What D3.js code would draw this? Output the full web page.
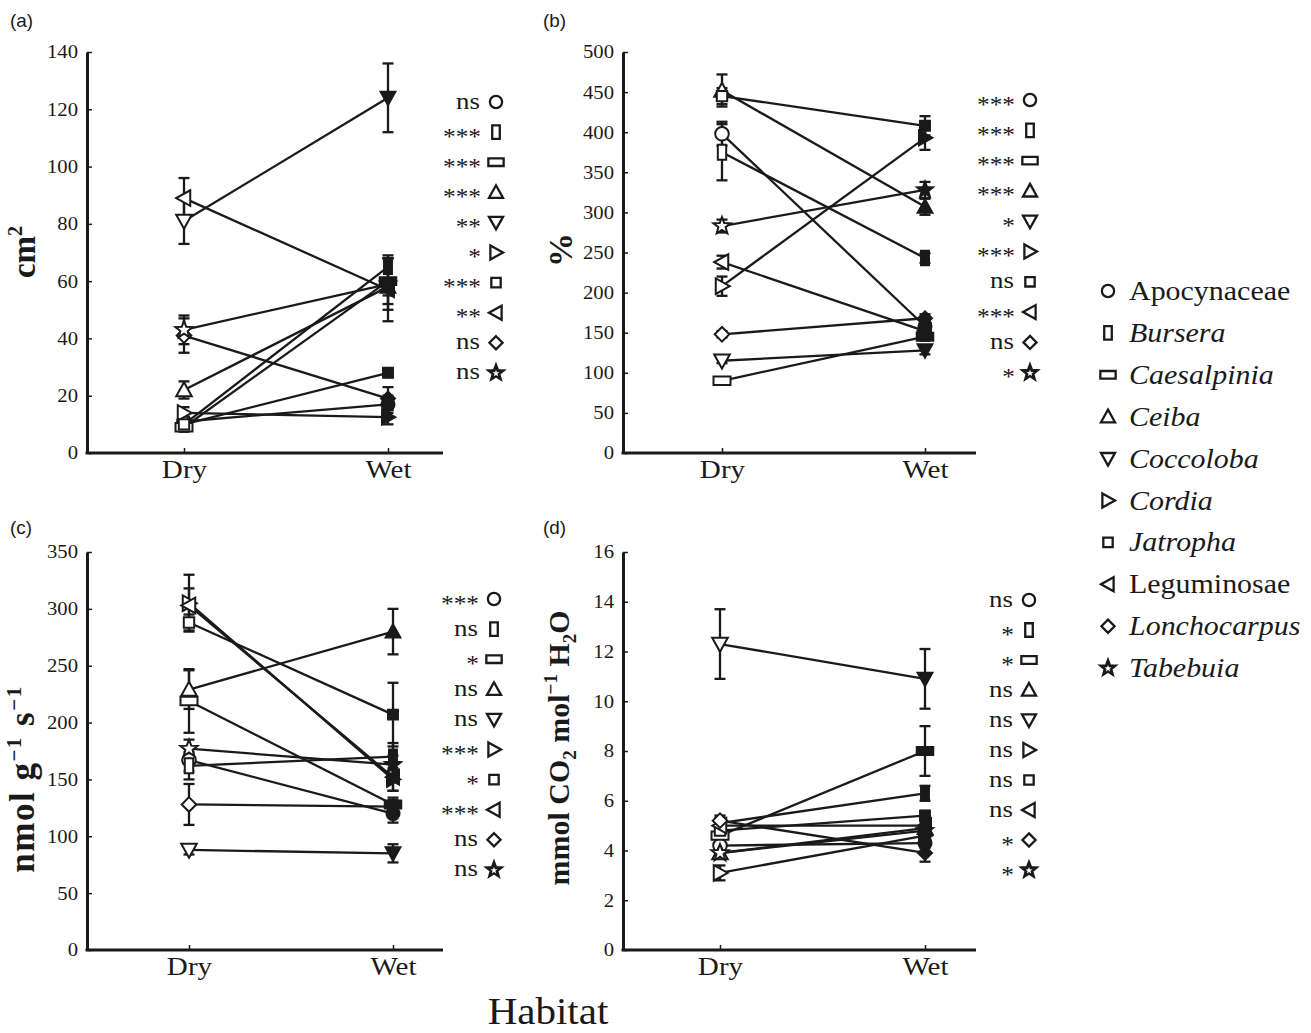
<!DOCTYPE html>
<html>
<head>
<meta charset="utf-8">
<script src="https://cdn.jsdelivr.net/npm/d3@7"></script>
<style>
  body { margin: 0; background: #fff; }
  svg { display: block; }
</style>
</head>
<body>
<svg id="chart" width="1311" height="1033"></svg>
<script>
// ---------- DATA ----------
const species = ["Apocynaceae","Bursera","Caesalpinia","Ceiba","Coccoloba","Cordia","Jatropha","Leguminosae","Lonchocarpus","Tabebuia"];
const italicSpecies = [false,true,true,true,true,true,true,false,true,true];
const shapes = ["circle","tallRect","wideRect","triUp","triDown","triRight","square","triLeft","diamond","star"];
const habitats = ["Dry","Wet"];

// (a) cm2
const aDry    = [11, 10, 9, 22, 81, 14, 10, 89, 41, 43];
const aDryErr = [1.5, 1.5, 1.5, 3, 8, 2, 1.5, 7, 6, 5];
const aWet    = [17, 65, 60, 58, 124, 12.5, 28, 57, 19, 59];
const aWetErr = [3, 4, 8, 3, 12, 2.5, 1.5, 11, 4, 9];
const aSig = ["ns","***","***","***","**","*","***","**","ns","ns"];
const aTicks = [0,20,40,60,80,100,120,140];

// (b) %
const bDry    = [398, 375, 90, 452, 115, 208, 445, 238, 148, 283];
const bDryErr = [15, 35, 3, 20, 3, 12, 10, 8, 4, 8];
const bWet    = [158, 243, 145, 307, 128, 393, 408, 152, 168, 328];
const bWetErr = [6, 6, 5, 10, 5, 15, 12, 6, 5, 10];
const bSig = ["***","***","***","***","*","***","ns","***","ns","*"];
const bTicks = [0,50,100,150,200,250,300,350,400,450,500];

// (c) nmol g-1 s-1
const cDry    = [167, 162, 219, 229, 88, 305, 288, 303, 128, 177];
const cDryErr = [10, 12, 28, 17, 4, 25, 7, 15, 18, 8];
const cWet    = [120, 170, 128, 280, 85, 150, 207, 152, 126, 163];
const cWetErr = [8, 12, 6, 20, 8, 10, 28, 12, 6, 8];
const cSig = ["***","ns","*","ns","ns","***","*","***","ns","ns"];
const cTicks = [0,50,100,150,200,250,300,350];

// (d) mmol CO2 mol-1 H2O
const dDry    = [4.2, 5.1, 4.6, 3.9, 12.3, 3.1, 4.8, 5.0, 5.2, 3.9];
const dDryErr = [0.2, 0.2, 0.2, 0.2, 1.4, 0.3, 0.2, 0.2, 0.2, 0.2];
const dWet    = [4.3, 6.3, 8.0, 4.9, 10.9, 4.6, 5.4, 5.0, 3.9, 4.8];
const dWetErr = [0.2, 0.3, 1.0, 0.2, 1.2, 0.2, 0.2, 0.2, 0.35, 0.2];
const dSig = ["ns","*","*","ns","ns","ns","ns","ns","*","*"];
const dTicks = [0,2,4,6,8,10,12,14,16];

// ---------- LAYOUT ----------
const INK = "#1a1a1a";
const SERIF = "'Liberation Serif','DejaVu Serif',serif";
const SANS = "'Liberation Sans','DejaVu Sans',sans-serif";
const SX = 1.12; // horizontal text stretch seen in the reference

const panels = [
  {letter:"(a)", lx:10, ly:27, axX:87, axEnd:443, xDry:184, xWet:388, yTop:52, yBot:453,
   ticks:aTicks, dry:aDry, dryErr:aDryErr, wet:aWet, wetErr:aWetErr, sig:aSig,
   sigX:496, sigY0:102, sigStep:30.1, titleX:35, titleY:252, title:"a"},
  {letter:"(b)", lx:543, ly:27, axX:623, axEnd:976, xDry:722, xWet:925, yTop:52, yBot:453,
   ticks:bTicks, dry:bDry, dryErr:bDryErr, wet:bWet, wetErr:bWetErr, sig:bSig,
   sigX:1030, sigY0:100, sigStep:30.3, titleX:572, titleY:250, title:"b"},
  {letter:"(c)", lx:10, ly:534, axX:87, axEnd:443, xDry:189, xWet:393, yTop:552, yBot:950,
   ticks:cTicks, dry:cDry, dryErr:cDryErr, wet:cWet, wetErr:cWetErr, sig:cSig,
   sigX:494, sigY0:599, sigStep:30.1, titleX:34, titleY:779, title:"c"},
  {letter:"(d)", lx:543, ly:534, axX:623, axEnd:976, xDry:720, xWet:925, yTop:552, yBot:950,
   ticks:dTicks, dry:dDry, dryErr:dDryErr, wet:dWet, wetErr:dWetErr, sig:dSig,
   sigX:1029, sigY0:600, sigStep:30.0, titleX:569, titleY:748, title:"d"}
];

const svg = d3.select("#chart");

function stretchedText(parent, x, y, str, opts) {
  const t = parent.append("text")
    .attr("transform", `translate(${x},${y}) scale(${opts.sx || SX},1)`)
    .attr("font-family", opts.family || SERIF)
    .attr("font-size", opts.size)
    .attr("fill", INK)
    .attr("text-anchor", opts.anchor || "start")
    .text(str);
  if (opts.style) t.attr("font-style", opts.style);
  if (opts.ls) t.attr("letter-spacing", opts.ls);
  return t;
}

// ---------- SHAPES ----------
function shapePath(name, k) {
  k = k || 1;
  const p = d3.path();
  switch (name) {
    case "circle": { const r = 6.8*k; p.moveTo(r,0); p.arc(0,0,r,0,2*Math.PI); break; }
    case "tallRect": { const w=4.2*k, h=7.5*k; p.rect(-w,-h,2*w,2*h); break; }
    case "wideRect": { const w=8.5*k, h=4.2*k; p.rect(-w,-h,2*w,2*h); break; }
    case "square": { const s=5.2*k; p.rect(-s,-s,2*s,2*s); break; }
    case "triUp": { const s=7.8*k; p.moveTo(0,-s); p.lineTo(s,s*0.8); p.lineTo(-s,s*0.8); p.closePath(); break; }
    case "triDown": { const s=7.8*k; p.moveTo(0,s); p.lineTo(s,-s*0.8); p.lineTo(-s,-s*0.8); p.closePath(); break; }
    case "triRight": { const s=7.8*k; p.moveTo(s,0); p.lineTo(-s*0.8,s); p.lineTo(-s*0.8,-s); p.closePath(); break; }
    case "triLeft": { const s=7.8*k; p.moveTo(-s,0); p.lineTo(s*0.8,s); p.lineTo(s*0.8,-s); p.closePath(); break; }
    case "diamond": { const s=7.3*k; p.moveTo(0,-s); p.lineTo(s,0); p.lineTo(0,s); p.lineTo(-s,0); p.closePath(); break; }
    case "star": {
      const R=9*k, r=3.8*k;
      for (let i=0;i<10;i++){
        const a = -Math.PI/2 + i*Math.PI/5;
        const rr = i%2===0 ? R : r;
        const x = rr*Math.cos(a), y = rr*Math.sin(a);
        if (i===0) p.moveTo(x,y); else p.lineTo(x,y);
      }
      p.closePath(); break;
    }
  }
  return p.toString();
}

function keyMarker(parent, shape, cx, cy) {
  parent.append("path").attr("d",shapePath(shape,0.9))
    .attr("transform",`translate(${cx},${cy})`)
    .attr("fill", shape==="star" ? INK : "#fff").attr("stroke",INK).attr("stroke-width",2.3);
  if (shape==="star") {
    parent.append("path").attr("d",shapePath("star",0.4)).attr("transform",`translate(${cx},${cy+0.5})`)
      .attr("fill","#fff");
  }
}

// ---------- PANELS ----------
panels.forEach(P => {
  const g = svg.append("g");
  const max = P.ticks[P.ticks.length-1];
  const y = d3.scaleLinear().domain([0,max]).range([P.yBot,P.yTop]);
  const x = d3.scalePoint().domain(habitats).range([P.xDry,P.xWet]);

  // panel letter
  stretchedText(svg, P.lx, P.ly, P.letter, {family:SANS, size:18, sx:1.05});

  // y axis
  const yAxis = d3.axisLeft(y).tickValues(P.ticks).tickSize(-5).tickPadding(8).tickSizeOuter(0);
  const ya = g.append("g").attr("transform",`translate(${P.axX},0)`).call(yAxis);
  ya.select(".domain").attr("stroke",INK).attr("stroke-width",3);
  ya.selectAll(".tick line").attr("stroke",INK).attr("stroke-width",1.5);
  ya.selectAll(".tick text").attr("font-family",SERIF).attr("font-size",18.5).attr("fill",INK)
    .attr("transform",`scale(${SX},1)`);

  // x axis
  g.append("line").attr("x1",P.axX-1.5).attr("x2",P.axEnd).attr("y1",P.yBot).attr("y2",P.yBot)
   .attr("stroke",INK).attr("stroke-width",3);
  const xAxis = d3.axisBottom(x).tickSize(-5).tickPadding(7).tickSizeOuter(0);
  const xa = g.append("g").attr("transform",`translate(0,${P.yBot})`).call(xAxis);
  xa.select(".domain").remove();
  xa.selectAll(".tick line").attr("stroke",INK).attr("stroke-width",1.5);
  xa.selectAll(".tick text").attr("font-family",SERIF).attr("font-size",26).attr("fill",INK)
    .attr("transform",`scale(${SX},1)`);

  // lines
  const line = d3.line().x(d=>x(d.h)).y(d=>y(d.v));
  species.forEach((s,i) => {
    g.append("path").attr("d", line([{h:"Dry",v:P.dry[i]},{h:"Wet",v:P.wet[i]}]))
     .attr("fill","none").attr("stroke",INK).attr("stroke-width",2.3);
  });
  // error bars
  const drawErr = (h, v, e) => {
    const cx = x(h);
    g.append("line").attr("x1",cx).attr("x2",cx).attr("y1",y(v-e)).attr("y2",y(v+e))
     .attr("stroke",INK).attr("stroke-width",2.3);
    [v-e, v+e].forEach(t => g.append("line").attr("x1",cx-5.5).attr("x2",cx+5.5)
      .attr("y1",y(t)).attr("y2",y(t)).attr("stroke",INK).attr("stroke-width",2.3));
  };
  species.forEach((s,i) => { drawErr("Dry",P.dry[i],P.dryErr[i]); drawErr("Wet",P.wet[i],P.wetErr[i]); });
  // markers
  species.forEach((s,i) => {
    g.append("path").attr("d",shapePath(shapes[i]))
     .attr("transform",`translate(${x("Dry")},${y(P.dry[i])})`)
     .attr("fill","#fff").attr("stroke",INK).attr("stroke-width",2);
    g.append("path").attr("d",shapePath(shapes[i]))
     .attr("transform",`translate(${x("Wet")},${y(P.wet[i])})`)
     .attr("fill",INK).attr("stroke",INK).attr("stroke-width",1.5);
  });

  // significance column
  species.forEach((s,i) => {
    const cy = P.sigY0 + i*P.sigStep;
    keyMarker(g, shapes[i], P.sigX, cy);
    const lab = P.sig[i];
    if (lab === "ns") {
      stretchedText(g, P.sigX-16, cy+6.5, lab, {size:24, anchor:"end", sx:1.12});
    } else {
      stretchedText(g, P.sigX-15, cy+11.5, lab, {size:23, anchor:"end", sx:1.1});
    }
  });

  // y title
  const t = svg.append("text").attr("transform",`translate(${P.titleX},${P.titleY}) rotate(-90)`)
    .attr("text-anchor","middle").attr("font-family",SERIF).attr("font-weight","bold")
    .attr("fill",INK);
  if (P.title === "a") {
    t.attr("font-size",33);
    t.append("tspan").text("cm");
    t.append("tspan").attr("dy",-13).attr("font-size",20).text("2");
  } else if (P.title === "b") {
    t.attr("font-size",34).text("%");
  } else if (P.title === "c") {
    t.attr("font-size",35).attr("letter-spacing",1.5);
    t.append("tspan").text("nmol g");
    t.append("tspan").attr("dy",-13).attr("font-size",21).text("−1");
    t.append("tspan").attr("dy",13).text(" s");
    t.append("tspan").attr("dy",-13).attr("font-size",21).text("−1");
  } else {
    t.attr("font-size",30);
    t.append("tspan").text("mmol CO");
    t.append("tspan").attr("dy",7).attr("font-size",19).text("2");
    t.append("tspan").attr("dy",-7).text(" mol");
    t.append("tspan").attr("dy",-12).attr("font-size",19).text("−1");
    t.append("tspan").attr("dy",12).text(" H");
    t.append("tspan").attr("dy",7).attr("font-size",19).text("2");
    t.append("tspan").attr("dy",-7).text("O");
  }
});

// ---------- LEGEND ----------
const leg = svg.append("g");
species.forEach((s,i) => {
  const cy = 291 + i*41.9;
  keyMarker(leg, shapes[i], 1108, cy);
  stretchedText(leg, 1129, cy+9, s, {size:28, sx:1.07, style: italicSpecies[i] ? "italic" : "normal"});
});

// ---------- COMMON X TITLE ----------
stretchedText(svg, 548, 1024, "Habitat", {size:38, anchor:"middle", sx:1.08});
</script>
</body>
</html>
